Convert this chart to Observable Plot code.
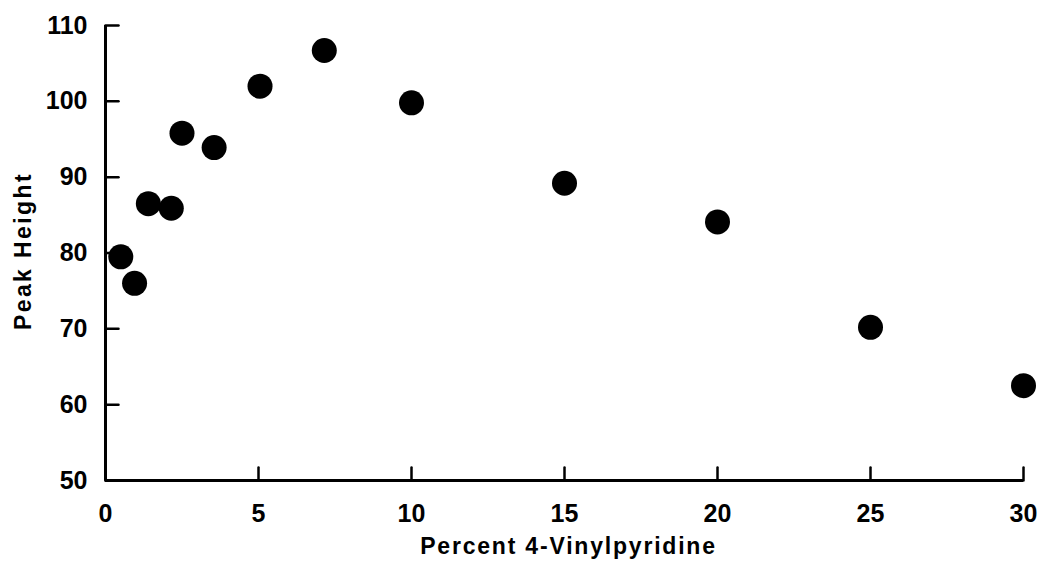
<!DOCTYPE html>
<html>
<head>
<meta charset="utf-8">
<script src="https://cdn.jsdelivr.net/npm/d3@7"></script>
<script src="https://cdn.jsdelivr.net/npm/@observablehq/plot@0.6"></script>
<style>
  html, body { margin: 0; padding: 0; background: #fff; }
  #chart svg { display: block; background: #fff; }
</style>
</head>
<body>
<div id="chart"></div>
<script>
// Data
const percentVinylpyridine = [0.5, 0.95, 1.4, 2.15, 2.5, 3.55, 5.05, 7.15, 10, 15, 20, 25, 30];
const peakHeight = [79.5, 76.0, 86.5, 85.9, 95.8, 93.9, 102.0, 106.7, 99.8, 89.2, 84.1, 70.2, 62.5];
const xTicks = [0, 5, 10, 15, 20, 25, 30];
const yTicks = [50, 60, 70, 80, 90, 100, 110];
const xTitle = "Percent 4-Vinylpyridine";
const yTitle = "Peak Height";

const points = percentVinylpyridine.map((x, i) => ({x, y: peakHeight[i]}));
const lineShape = {draw(ctx, l) { ctx.moveTo(0, 0); ctx.lineTo(0, -l); }};
const font = "'Liberation Sans', Arial, sans-serif";

const chart = Plot.plot({
  width: 1039,
  height: 570,
  marginLeft: 105,
  marginRight: 16,
  marginTop: 25,
  marginBottom: 90,
  style: {fontFamily: font, fontWeight: "bold", color: "#000", background: "#fff"},
  x: {domain: [0, 30]},
  y: {domain: [50, 110]},
  marks: [
    Plot.ruleX([0], {stroke: "#000", strokeWidth: 3}),
    Plot.ruleY([50], {stroke: "#000", strokeWidth: 3}),
    Plot.vector(xTicks, {x: d => d, y: 50, length: 13, rotate: 0, anchor: "start", shape: lineShape, stroke: "#000", strokeWidth: 2.5}),
    Plot.vector(yTicks, {x: 0, y: d => d, length: 13, rotate: 90, anchor: "start", shape: lineShape, stroke: "#000", strokeWidth: 2.5}),
    Plot.axisX({ticks: xTicks, tickSize: 0, tickPadding: 24, fontSize: 25, label: null, tickFormat: d => String(d)}),
    Plot.axisY({ticks: yTicks, tickSize: 0, tickPadding: 18, fontSize: 25, label: null, tickFormat: d => String(d)}),
    Plot.dot(points, {x: "x", y: "y", r: 12.5, fill: "#000", stroke: null}),
    Plot.text([xTitle], {frameAnchor: "bottom", dy: 73, dx: 4, fontSize: 23, fontWeight: "bold", fill: "#000"}),
    Plot.text([yTitle], {frameAnchor: "left", textAnchor: "middle", dx: -82, dy: -2, rotate: -90, fontSize: 23, fontWeight: "bold", fill: "#000"})
  ]
});
// letter spacing for the axis titles, as in the reference lettering
chart.querySelectorAll("text").forEach(t => {
  if (t.textContent === xTitle) t.style.letterSpacing = "1.8px";
  if (t.textContent === yTitle) t.style.letterSpacing = "2.4px";
});
document.getElementById("chart").append(chart);
</script>
</body>
</html>
